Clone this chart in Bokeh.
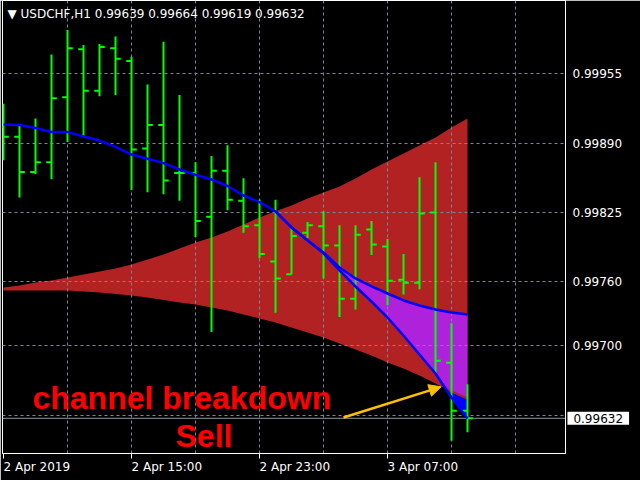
import numpy as np
from bokeh.plotting import figure
from bokeh.models import (Range1d, FixedTicker, Label, Span, Arrow, NormalHead,
                          ColumnDataSource, PrintfTickFormatter)
from bokeh.core.properties import value
from bokeh.embed import file_html
from bokeh.resources import INLINE

# ---------------- data ----------------
symbol = "USDCHF,H1"
bar_index = list(range(30))  # hourly bars, bar 0 = 2 Apr 2019 07:00
opens = [0.99905, 0.99896, 0.99863, 0.99872, 0.99933, 0.99978, 0.99939, 0.99979, 0.99967, 0.99885,
         0.99907, 0.99862, 0.99862, 0.99821, 0.99864, 0.99836, 0.99813, 0.99779, 0.99767, 0.99806,
         0.99812, 0.99794, 0.99744, 0.99809, 0.99793, 0.99762, 0.99759, 0.99825, 0.99684, 0.99639]
highs = [0.99927, 0.99906, 0.99913, 0.99973, 0.99996, 0.99982, 0.99983, 0.99990, 0.99971, 0.99945,
         0.99985, 0.99935, 0.99872, 0.99878, 0.99888, 0.99857, 0.99837, 0.99837, 0.99811, 0.99816,
         0.99826, 0.99813, 0.99813, 0.99817, 0.99800, 0.99786, 0.99858, 0.99872, 0.99721, 0.99664]
lows = [0.99874, 0.99839, 0.99861, 0.99856, 0.99891, 0.99896, 0.99934, 0.99935, 0.99846, 0.99844,
        0.99842, 0.99836, 0.99802, 0.99713, 0.99827, 0.99806, 0.99782, 0.99731, 0.99767, 0.99801,
        0.99763, 0.99727, 0.99734, 0.99785, 0.99738, 0.99748, 0.99753, 0.99674, 0.99611, 0.99619]
closes = [0.99896, 0.99863, 0.99872, 0.99932, 0.99979, 0.99939, 0.99980, 0.99969, 0.99884, 0.99907,
          0.99855, 0.99862, 0.99817, 0.99864, 0.99837, 0.99812, 0.99786, 0.99763, 0.99803, 0.99813,
          0.99794, 0.99744, 0.99804, 0.99795, 0.99761, 0.99759, 0.99824, 0.99686, 0.99639, 0.99632]

channel_upper = [0.997547, 0.997565, 0.997593, 0.997612, 0.997640, 0.997668, 0.997697, 0.997725,
                 0.997762, 0.997809, 0.997856, 0.997912, 0.997969, 0.998016, 0.998072, 0.998138,
                 0.998203, 0.998260, 0.998316, 0.998381, 0.998438, 0.998494, 0.998569, 0.998653,
                 0.998728, 0.998803, 0.998878, 0.998953, 0.999047, 0.999131]
channel_lower = [0.997518, 0.997518, 0.997518, 0.997518, 0.997518, 0.997508, 0.997499, 0.997486,
                 0.997471, 0.997452, 0.997429, 0.997405, 0.997387, 0.997358, 0.997330, 0.997293,
                 0.997256, 0.997218, 0.997171, 0.997124, 0.997078, 0.997021, 0.996965, 0.996909,
                 0.996843, 0.996787, 0.996721, 0.996646, 0.996571, 0.996506]

ma_slow = [0.999075, 0.999070, 0.999042, 0.999004, 0.999003, 0.998962, 0.998924, 0.998864,
           0.998793, 0.998753, 0.998712, 0.998653, 0.998603, 0.998559, 0.998498, 0.998409,
           0.998346, 0.998259, 0.998109, 0.997988, 0.997875, 0.997734, 0.997631, 0.997556,
           0.997490, 0.997425, 0.997378, 0.997340, 0.997312, 0.997293]
fast_index = list(range(17, 30))
ma_fast = [0.998259, 0.998109, 0.997988, 0.997866, 0.997706, 0.997556, 0.997415, 0.997265,
           0.997096, 0.996918, 0.996740, 0.996515, 0.996318]

time_tick_index = [0, 8, 16, 24]
time_tick_labels = ["2 Apr 2019", "2 Apr 15:00", "2 Apr 23:00", "3 Apr 07:00"]
grid_time_index = [4, 8, 12, 16, 20, 24, 28, 32]
price_ticks = [0.99955, 0.99890, 0.99825, 0.99760, 0.99700]
grid_prices = [0.99955, 0.99890, 0.99825, 0.99760, 0.99700, 0.99635]

note_text = ["channel breakdown", "Sell"]
note_x = [1.81, 10.75]
note_y = [0.996506, 0.996157]
arrow_from = (21.25, 0.996328)
arrow_to = (27.35, 0.996615)

x_view = (-0.0625, 35.125)
y_view = (0.995990, 1.000237)

# ---------------- figure ----------------
p = figure(frame_width=563, frame_height=453, output_backend="svg", toolbar_location=None,
           x_range=Range1d(*x_view), y_range=Range1d(*y_view), y_axis_location="right",
           min_border_left=2, min_border_top=0, min_border_right=75, min_border_bottom=27,
           background_fill_color="black", border_fill_color="black")
p.outline_line_color = "white"
p.outline_line_width = 1

idx = np.array(bar_index, dtype=float)
lo = np.array(channel_lower)
up = np.array(channel_upper)

# channel fill
p.varea(x=idx, y1=lo, y2=up, fill_color="#B22222", level="image")
# purple region between the two averages
p.varea(x=fast_index, y1=ma_fast, y2=np.array(ma_slow)[17:], fill_color="#AE22DC", level="image")
# blue region where the fast line breaks below the channel
lo_f = lo[17:]
fa = np.array(ma_fast)
d = fa - lo_f
k = int(np.where(d < 0)[0][0])
t = d[k - 1] / (d[k - 1] - d[k])
xc = fast_index[k - 1] + t
yc = lo_f[k - 1] + t * (lo_f[k] - lo_f[k - 1])
bx = [xc] + fast_index[k:]
p.varea(x=bx, y1=[yc] + list(lo_f[k:]), y2=[yc] + list(fa[k:]), fill_color="#0000FF", level="image")
p.line(x=bx, y=[yc] + list(lo_f[k:]), line_color="#B22222", line_width=2, level="image")

# grid
p.xgrid.ticker = FixedTicker(ticks=grid_time_index)
p.ygrid.ticker = FixedTicker(ticks=grid_prices)
for g in (p.xgrid, p.ygrid):
    g.grid_line_color = "#778899"
    g.grid_line_dash = "3 3"
    g.grid_line_width = 1

# current price line
p.add_layout(Span(location=closes[-1], dimension="width", line_color="#8899AA", line_width=1,
                  level="underlay"))

# OHLC bars
src = ColumnDataSource(dict(x=idx, xl=idx - 0.33, xr=idx + 0.33, o=opens, h=highs, l=lows, c=closes))
green = "#00FF00"
p.segment(x0="x", y0="l", x1="x", y1="h", source=src, line_color=green, line_width=2)
p.segment(x0="xl", y0="o", x1="x", y1="o", source=src, line_color=green, line_width=2)
p.segment(x0="x", y0="c", x1="xr", y1="c", source=src, line_color=green, line_width=2)

# averages
p.line(x=idx, y=ma_slow, line_color="#0000FF", line_width=2.5)
p.line(x=fast_index, y=ma_fast, line_color="#0000FF", line_width=2.5)

# annotations
p.text(x=note_x, y=note_y, text=note_text, text_color="#FF0000",
       text_font=value("Liberation Sans"), text_font_style="bold", text_font_size="32px",
       text_align="left", text_baseline="alphabetic")
p.add_layout(Arrow(end=NormalHead(size=12, fill_color="#FFC000", line_color="#FFC000"),
                   x_start=arrow_from[0], y_start=arrow_from[1],
                   x_end=arrow_to[0], y_end=arrow_to[1],
                   line_color="#FFC000", line_width=2.5))

header = "\u25BC  %s  %.5f %.5f %.5f %.5f" % (symbol, opens[-1], highs[-1], lows[-1], closes[-1])
p.add_layout(Label(x=0.25, y=1.000108, text=header, text_color="white",
                   text_font="DejaVu Sans", text_font_size="12px", text_baseline="alphabetic"))

# axes
ya = p.yaxis[0]
ya.ticker = FixedTicker(ticks=price_ticks)
ya.formatter = PrintfTickFormatter(format="%.5f")
ya.axis_line_color = "white"
ya.major_tick_line_color = None
ya.minor_tick_line_color = None
ya.major_tick_out = 0
ya.major_tick_in = 0
ya.major_label_standoff = 7
ya.major_label_text_color = "white"
ya.major_label_text_font = "DejaVu Sans"
ya.major_label_text_font_size = "12px"

xa = p.xaxis[0]
xa.ticker = FixedTicker(ticks=time_tick_index)
xa.major_label_overrides = {i: s for i, s in zip(time_tick_index, time_tick_labels)}
xa.axis_line_color = "white"
xa.major_tick_line_color = "white"
xa.minor_tick_line_color = None
xa.major_tick_out = 5
xa.major_tick_in = 0
xa.major_label_standoff = 8
xa.major_label_orientation = -0.0001
xa.major_label_text_color = "white"
xa.major_label_text_font = "DejaVu Sans"
xa.major_label_text_font_size = "12px"

# current price box on the price scale (placed in the right panel so it is not clipped)
price_box = Label(x=x_view[1] + 0.12, y=closes[-1], text="%.5f" % closes[-1], text_color="black",
                  text_font="DejaVu Sans", text_font_size="12px", text_baseline="middle",
                  background_fill_color="white")
try:
    price_box.padding = dict(left=6, right=6, top=2, bottom=2)
except Exception:
    price_box.padding = 4
p.add_layout(price_box, "right")

open("out.html", "w").write(file_html(p, INLINE))
